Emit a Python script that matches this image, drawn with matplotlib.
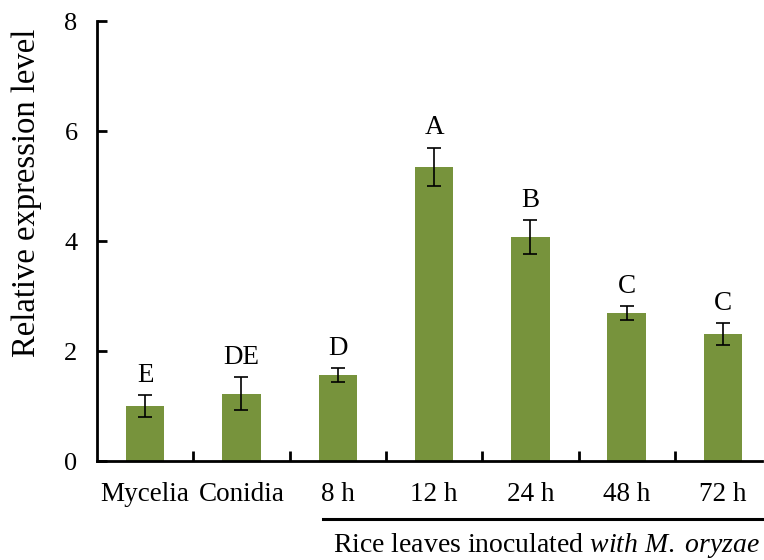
import matplotlib
matplotlib.use("Agg")
import matplotlib.pyplot as plt
from matplotlib.lines import Line2D

plt.rcParams['font.family'] = ['Liberation Serif', 'DejaVu Serif']
plt.rcParams['mathtext.fontset'] = 'custom'
plt.rcParams['mathtext.rm'] = 'Liberation Serif'
plt.rcParams['mathtext.it'] = 'Liberation Serif:italic'

categories = ["Mycelia", "Conidia", "8 h", "12 h", "24 h", "48 h", "72 h"]
values = [1.00, 1.22, 1.56, 5.35, 4.07, 2.69, 2.31]
errors = [0.20, 0.30, 0.13, 0.35, 0.31, 0.13, 0.20]
letters = ["E", "DE", "D", "A", "B", "C", "C"]

green = "#77933C"

fig = plt.figure(figsize=(7.64, 5.6), dpi=100)
ax = fig.add_axes([97 / 764, 1 - 461 / 560, 665 / 764, 440 / 560])

x = list(range(len(categories)))
ax.bar(x, values, width=0.4, color=green, edgecolor="none", zorder=2)
ax.errorbar(x, values, yerr=errors, fmt="none", ecolor="black",
            elinewidth=1.2, capsize=5, capthick=1.2, zorder=3)

for xi, v, e, lab in zip(x, values, errors, letters):
    ax.text(xi, v + e + 0.13, lab, ha="center", va="bottom", fontsize=19.5)

ax.set_xlim(-0.5, 6.405)
ax.set_ylim(0, 8)
ax.set_yticks([0, 2, 4, 6, 8])
ax.set_xticks(x)
ax.set_xticklabels(categories, fontsize=19.5)
ax.set_xticks([i + 0.5 for i in range(6)], minor=True)
ax.tick_params(axis="x", which="major", length=0, pad=15)
ax.tick_params(axis="x", which="minor", direction="in", length=7, width=2)
ax.tick_params(axis="y", direction="in", length=7, width=2, labelsize=19, pad=14)

ax.spines["top"].set_visible(False)
ax.spines["right"].set_visible(False)
ax.spines["left"].set_linewidth(2)
ax.spines["bottom"].set_linewidth(2)

ax.set_ylabel("Relative expression level", fontsize=23.5)
ax.yaxis.set_label_coords(-0.083, 0.61)

# bracket line and group label under the inoculated time points
fig.add_artist(Line2D([323 / 764, 764 / 764], [1 - 519 / 560, 1 - 519 / 560],
                      color="black", linewidth=2.2))
fig.text(333 / 764, 1 - 545 / 560,
         r"Rice leaves inoculated $\it{with\ M.\ oryzae}$",
         ha="left", va="center", fontsize=20)

fig.savefig("out.png", dpi=100)
